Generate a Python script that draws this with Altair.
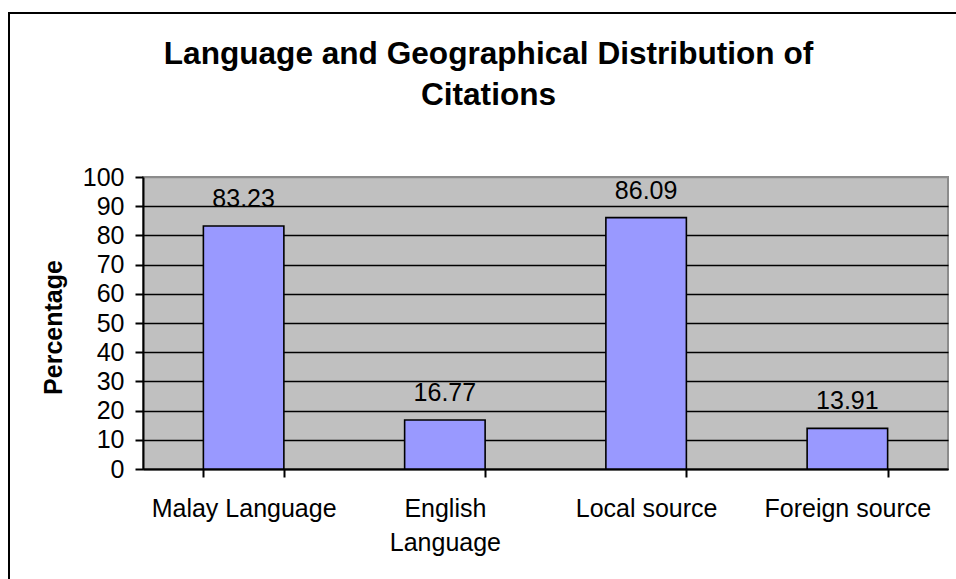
import altair as alt
import pandas as pd

categories = ["Malay Language", "English Language", "Local source", "Foreign source"]
percentages = [83.23, 16.77, 86.09, 13.91]
y_ticks = [0, 10, 20, 30, 40, 50, 60, 70, 80, 90, 100]

df = pd.DataFrame({"category": categories, "pct": percentages})

FONT = "Liberation Sans"

x_enc = alt.X(
    "category:N",
    sort=categories,
    scale=alt.Scale(paddingInner=0.6, paddingOuter=0.3),
    axis=alt.Axis(
        title=None,
        labelAngle=0,
        labelFont=FONT,
        labelFontSize=25,
        labelColor="black",
        labelLimit=0,
        labelPadding=19,
        labelLineHeight=34,
        labelExpr="datum.value == 'English Language' ? ['English', 'Language'] : datum.value",
        tickBand="extent",
        tickColor="black",
        tickSize=8,
        tickWidth=2,
        domainColor="black",
        domainWidth=2,
        grid=False,
    ),
)

y_enc = alt.Y(
    "pct:Q",
    scale=alt.Scale(domain=[0, 100], nice=False),
    axis=alt.Axis(
        title="Percentage",
        titleFont=FONT,
        titleFontSize=25,
        titleFontWeight="bold",
        titleColor="black",
        titleAngle=-90,
        titleX=-90,
        titleY=150,
        titleAlign="center",
        titleBaseline="middle",
        values=y_ticks,
        tickCount=20,
        labelOverlap=False,
        labelFont=FONT,
        labelFontSize=25,
        labelColor="black",
        labelPadding=11,
        tickColor="black",
        tickSize=8,
        tickWidth=2,
        domainColor="black",
        domainWidth=2,
        grid=True,
        gridColor=alt.expr("datum.value == 100 ? '#8c8c8c' : 'black'"),
        gridWidth=1.6,
    ),
)

bars = alt.Chart(df).mark_bar(
    color="#9999FF", stroke="black", strokeWidth=1.6
).encode(x=x_enc, y=y_enc)

labels = alt.Chart(df).mark_text(
    font=FONT, fontSize=25, color="black", baseline="alphabetic", dy=-19
).encode(
    x=x_enc,
    y=y_enc,
    text=alt.Text("pct:Q", format=".2f"),
)

frame_data = alt.Data(values=[{"k": 1}])
left_border = alt.Chart(frame_data).mark_rule(color="black", strokeWidth=2).encode(
    x=alt.value(-134), y=alt.value(-165), y2=alt.value(410)
)
top_border = alt.Chart(frame_data).mark_rule(color="black", strokeWidth=2).encode(
    x=alt.value(-135), x2=alt.value(820), y=alt.value(-164)
)

chart = (
    alt.layer(bars, labels, left_border, top_border)
    .properties(
        width=805,
        height=292,
        autosize=alt.AutoSizeParams(type="none"),
        padding={"left": 143, "top": 177, "right": 8, "bottom": 110},
        background="white",
        title=alt.TitleParams(
            text=["Language and Geographical Distribution of", "Citations"],
            font=FONT,
            fontSize=31.6,
            fontWeight="bold",
            color="black",
            anchor="middle",
            dx=-57,
            lineHeight=41,
            offset=-101,
        ),
    )
    .configure_view(fill="#C0C0C0", stroke="#8c8c8c", strokeWidth=2)
)

chart.save("out.html", embed_options={"renderer": "svg", "actions": False})
